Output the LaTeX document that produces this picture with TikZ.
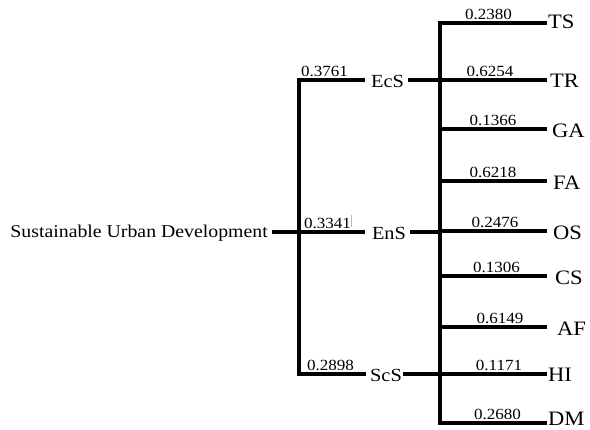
\documentclass[tikz,border=0pt]{standalone}
\usepackage{fontspec}
\setmainfont[FakeStretch=1.1]{Liberation Serif}
\begin{document}
\begin{tikzpicture}[x=1pt,y=-1pt,
  branch/.style={line width=3.2pt,black},
  lbl/.style={font=\fontsize{18}{20}\selectfont,inner sep=0pt},
  leaflbl/.style={font=\fontsize{20.5}{22}\selectfont,inner sep=0pt,anchor=west},
  midlbl/.style={font=\fontsize{18.5}{20}\selectfont,inner sep=0pt},
  wt/.style={font=\fontsize{15.5}{17}\selectfont,inner sep=0pt,anchor=south}]
\useasboundingbox (0,0) rectangle (590,430);
\fill[white] (0,0) rectangle (590,430);
% root
\node[lbl,anchor=east] (root) at (268,233) {Sustainable Urban Development};
\coordinate (rootE) at (272,232);
\coordinate (j1) at (299,232);
\coordinate (j1t) at (299,80);
\coordinate (j1b) at (299,374);
% middle nodes
\node[midlbl] (ecs) at (387.5,81) {EcS};
\node[midlbl] (ens) at (389,233) {EnS};
\node[midlbl] (scs) at (386,375) {ScS};
\coordinate (ecsW) at (365,80);
\coordinate (ecsE) at (408,80);
\coordinate (ensW) at (365,232);
\coordinate (ensE) at (410,232);
\coordinate (scsW) at (366,374);
\coordinate (scsE) at (403,374);
% right spine
\coordinate (j2t) at (440,23);
\coordinate (j2b) at (440,423);
\coordinate (j2a) at (440,80);
\coordinate (j2c) at (440,232);
\coordinate (j2e) at (440,374);
\draw[branch] (rootE) -- (j1);
\draw[branch,line cap=rect] (j1t) -- (j1b);
\draw[branch] (j1t) -- (ecsW);
\draw[branch] (j1) -- (ensW);
\draw[branch] (j1b) -- (scsW);
\draw[branch] (ecsE) -- (j2a);
\draw[branch] (ensE) -- (j2c);
\draw[branch] (scsE) -- (j2e);
\draw[branch,line cap=rect] (j2t) -- (j2b);
% weights of middle level
\node[wt] (w1) at (324.5,77) {0.3761};
\node[wt] (w2) at (327.5,229) {0.3341};
\node[wt] (w3) at (330.5,371) {0.2898};
\draw[gray!55,line width=0.6pt] (351,215) -- (351,227);
% leaves
\foreach \n/\t/\y/\ly/\lx in {
  ts/TS/23/22/548,
  tr/TR/80/81/550,
  ga/GA/129/131/552,
  fa/FA/181/183/553,
  os/OS/231/233/553,
  cs/CS/276/278/555,
  af/AF/327/329/557,
  hi/HI/374/375/548,
  dm/DM/423/419/548}{
  \coordinate (\n S) at (440,\y);
  \coordinate (\n E) at (547,\y);
  \draw[branch] (\n S) -- (\n E);
  \node[leaflbl] (\n) at (\lx,\ly) {\t};
}
\node[wt] (wts) at (488.5,20) {0.2380};
\node[wt] (wtr) at (490,77) {0.6254};
\node[wt] (wga) at (493,126) {0.1366};
\node[wt] (wfa) at (493,178) {0.6218};
\node[wt] (wos) at (495,228) {0.2476};
\node[wt] (wcs) at (496.5,273) {0.1306};
\node[wt] (waf) at (500,324) {0.6149};
\node[wt] (whi) at (499,371) {0.1171};
\node[wt] (wdm) at (497.5,420) {0.2680};
\end{tikzpicture}
\end{document}
